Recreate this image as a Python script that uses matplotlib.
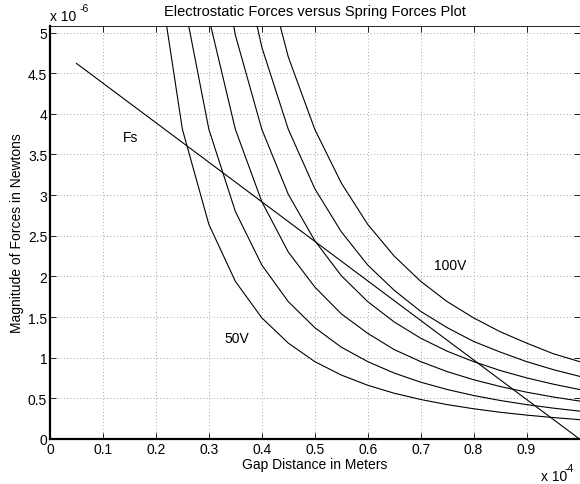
import matplotlib
matplotlib.use("Agg")
import matplotlib.pyplot as plt

plt.rcParams["font.family"] = ["Liberation Sans", "DejaVu Sans"]

# gap distance samples (x 1e-4 m)
gap = [0.20, 0.25, 0.30, 0.35, 0.40, 0.45, 0.50, 0.55, 0.60, 0.65,
       0.70, 0.75, 0.80, 0.85, 0.90, 0.95, 1.00]

# electrostatic force (x 1e-6 N) per voltage
f50 = [5.95, 3.81, 2.64, 1.94, 1.49, 1.18, 0.952, 0.787, 0.661, 0.563,
       0.486, 0.423, 0.372, 0.329, 0.294, 0.264, 0.238]
f60 = [5.48, 3.81, 2.80, 2.14, 1.69, 1.37, 1.13, 0.952, 0.811,
       0.699, 0.609, 0.535, 0.474, 0.423, 0.380, 0.343]
f70 = [7.46, 5.18, 3.81, 2.92, 2.30, 1.87, 1.54, 1.30, 1.10,
       0.952, 0.829, 0.729, 0.646, 0.576, 0.517, 0.467]
f80 = [6.77, 4.97, 3.81, 3.01, 2.44, 2.01, 1.69, 1.44,
       1.24, 1.08, 0.952, 0.843, 0.752, 0.675, 0.609]
f90 = [6.29, 4.82, 3.81, 3.08, 2.55, 2.14, 1.83,
       1.57, 1.37, 1.20, 1.07, 0.952, 0.854, 0.771]
f100 = [5.95, 4.70, 3.81, 3.15, 2.64, 2.25,
        1.94, 1.69, 1.49, 1.32, 1.18, 1.05, 0.952]

# spring force line
fs_x = [0.05, 1.00]
fs_y = [4.62, 0.0]

fig = plt.figure(figsize=(5.8, 4.85), dpi=100)
ax = fig.add_axes([50 / 580, 45 / 485, 529.5 / 580, 413 / 485])

for f in (f50, f60, f70, f80, f90, f100):
    ax.plot(gap[len(gap) - len(f):], f, color="black", lw=0.8)
ax.plot(fs_x, fs_y, color="black", lw=0.8)

ax.set_xlim(0, 1.0)
ax.set_ylim(0, 5.08)
ax.set_xticks([i / 10 for i in range(10)])
ax.set_xticklabels(["0", "0.1", "0.2", "0.3", "0.4", "0.5", "0.6", "0.7", "0.8", "0.9"])
ax.set_yticks([i / 2 for i in range(11)])
ax.set_yticklabels(["0", "0.5", "1", "1.5", "2", "2.5", "3", "3.5", "4", "4.5", "5"])
ax.tick_params(direction="in", top=True, right=True, labelsize=10, length=4, width=0.6, pad=2)
ax.grid(True, color="#888888", linestyle=(0, (1, 3)), lw=0.6)
ax.spines["left"].set_linewidth(1.6)
ax.spines["bottom"].set_linewidth(1.6)
ax.spines["top"].set_linewidth(0.6)
ax.spines["right"].set_linewidth(0.6)

ax.text(0.138, 3.71, "Fs", fontsize=10, va="center")
ax.text(0.33, 1.24, "50V", fontsize=10, va="center")
ax.text(0.725, 2.14, "100V", fontsize=10, va="center")

ax.set_title("Electrostatic Forces versus Spring Forces Plot", fontsize=10.5, pad=8)
ax.set_xlabel("Gap Distance in Meters", fontsize=10, labelpad=1)
ax.set_ylabel("Magnitude of Forces in Newtons", fontsize=10, labelpad=3)

# MATLAB-style exponent labels
fig.text(50 / 580, 1 - 17 / 485, "x 10", fontsize=10, va="center")
fig.text(80 / 580, 1 - 9 / 485, "-6", fontsize=7.5, va="center")
fig.text(541 / 580, 1 - 477 / 485, "x 10", fontsize=10, va="center")
fig.text(565 / 580, 1 - 469 / 485, "-4", fontsize=7.5, va="center")

fig.savefig("out.png", dpi=100)
